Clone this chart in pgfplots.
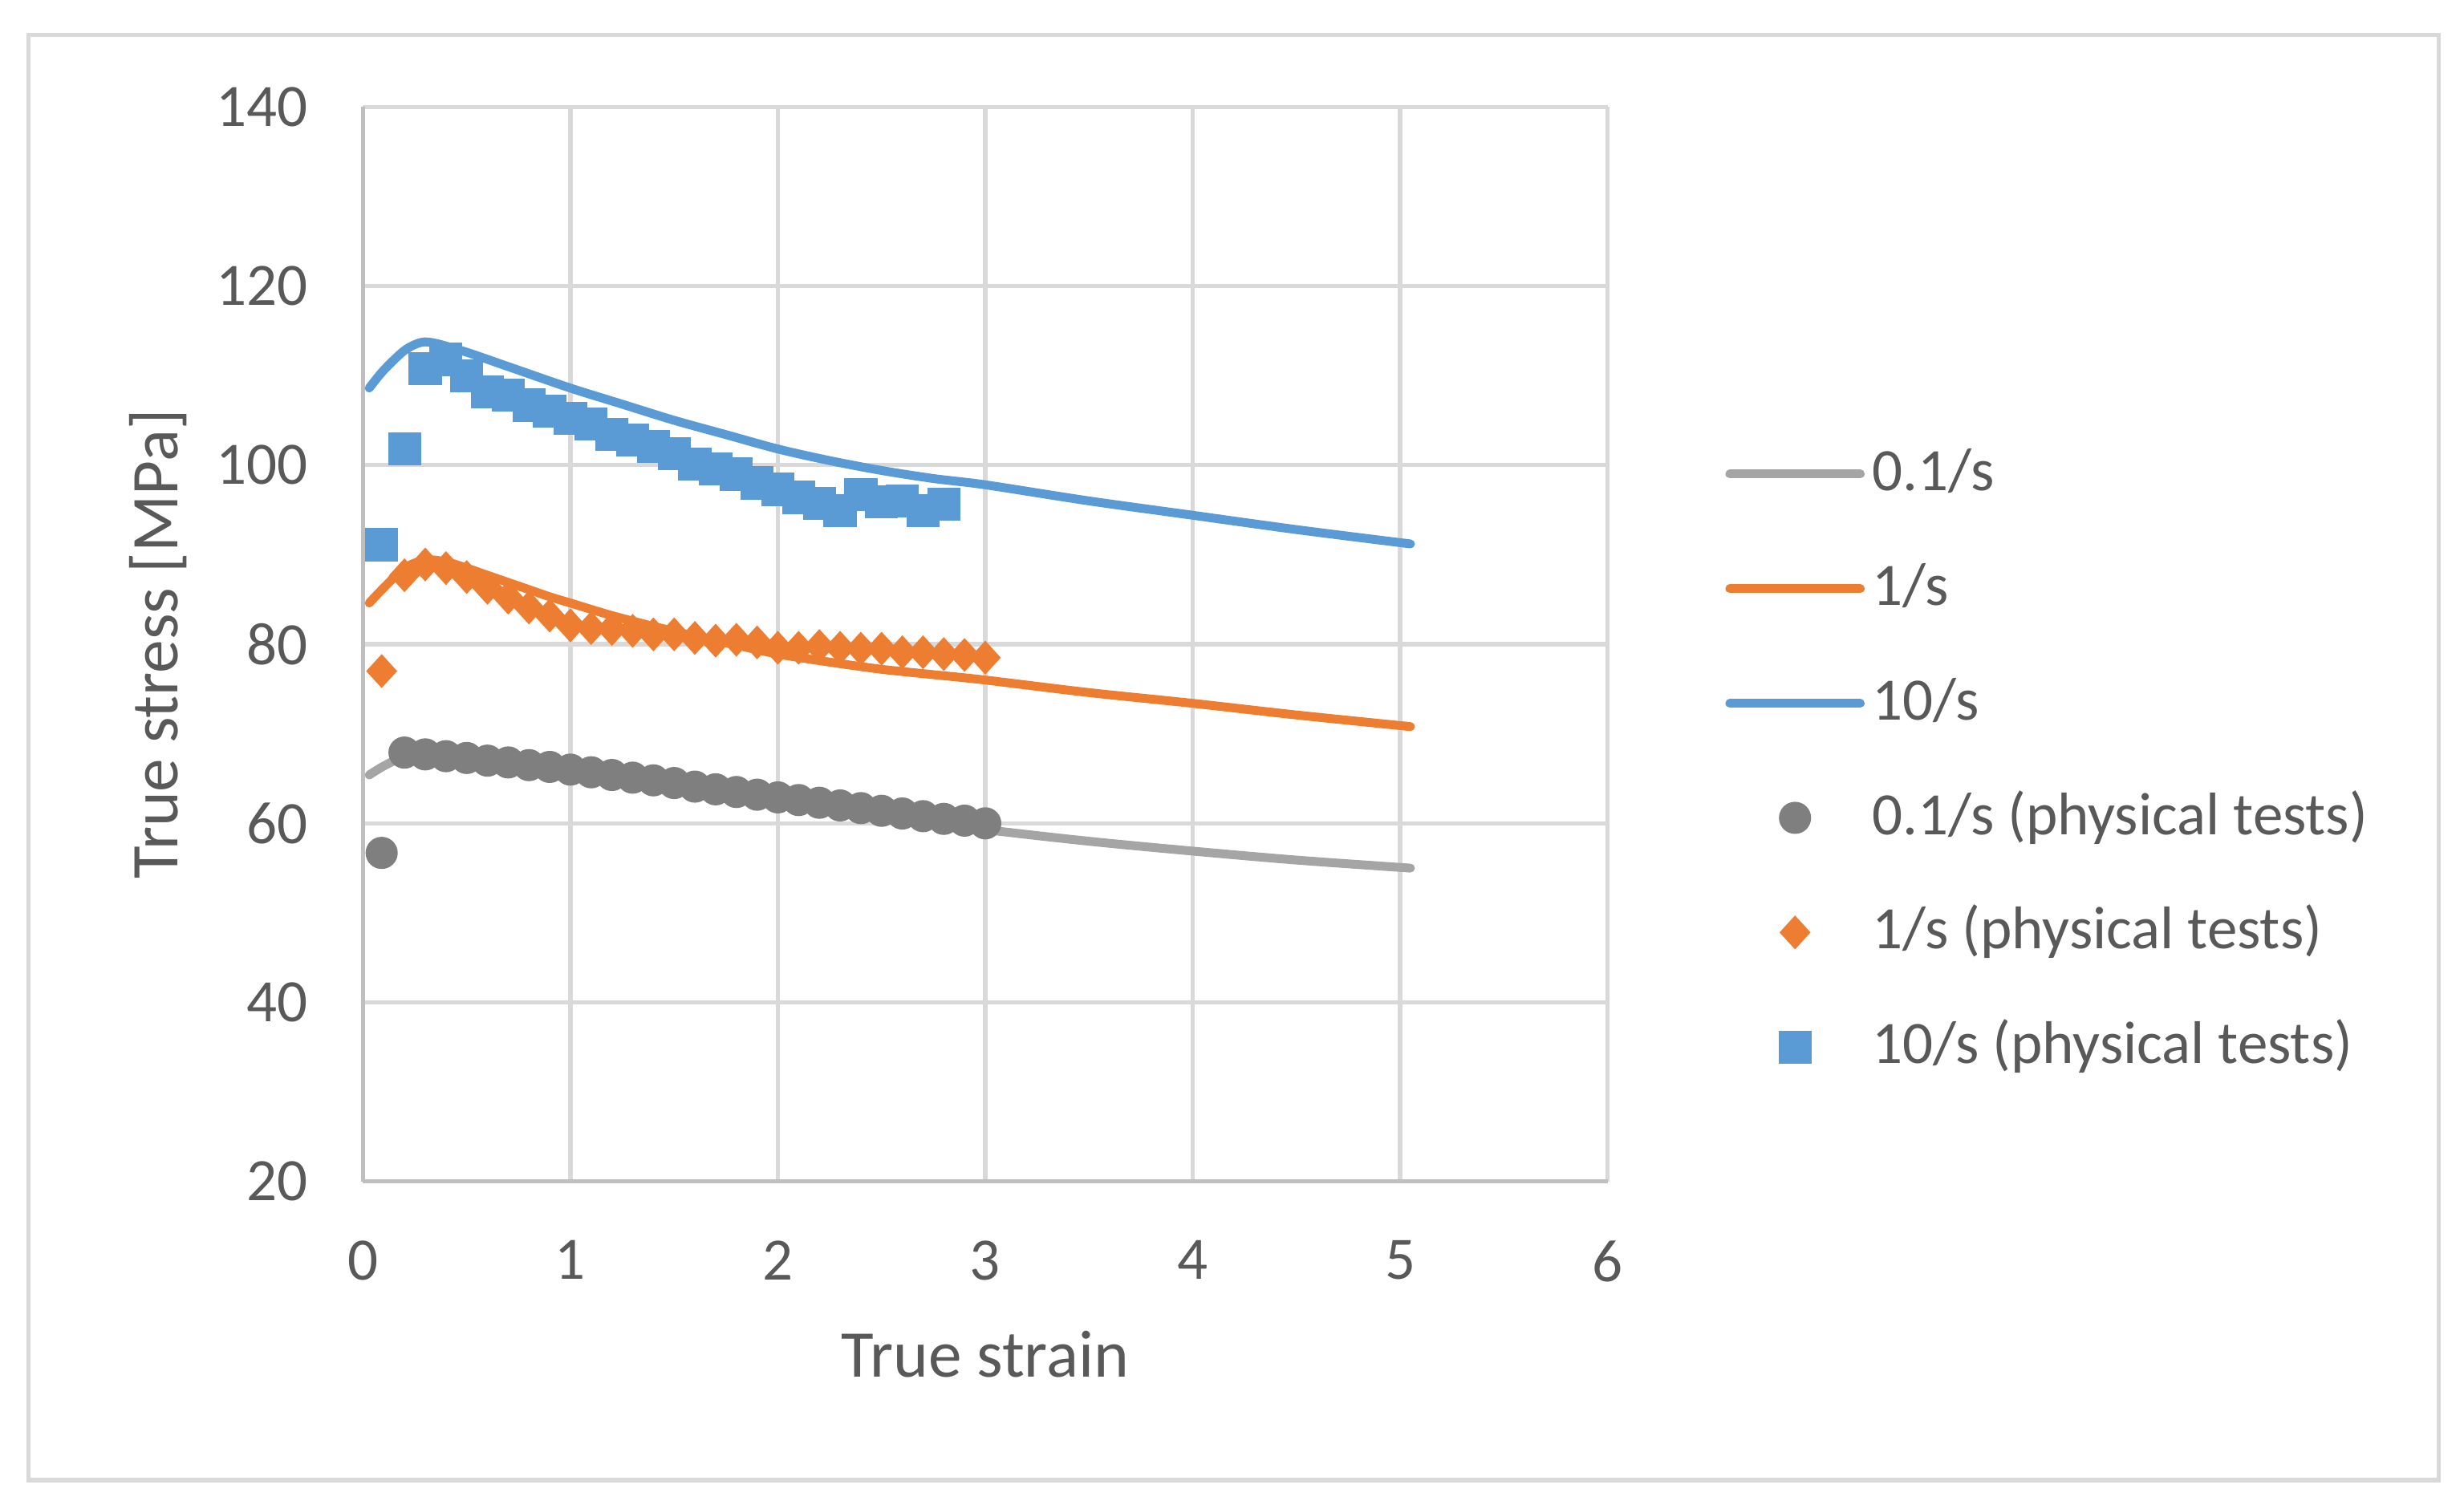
\documentclass[border=0pt]{standalone}
\usepackage{pgfplots}
\pgfplotsset{compat=1.18}
\usepackage{fontspec}
\setmainfont{Carlito}
\definecolor{txt}{HTML}{595959}
\definecolor{gridc}{HTML}{D9D9D9}
\definecolor{axc}{HTML}{BFBFBF}
\definecolor{sgray}{HTML}{A5A5A5}
\definecolor{mgray}{HTML}{7F7F7F}
\definecolor{sorange}{HTML}{ED7D31}
\definecolor{sblue}{HTML}{5B9BD5}
\begin{document}
\begin{tikzpicture}
\path[use as bounding box] (-2.31cm,-2.08cm) rectangle (13.37cm,7.52cm);
\draw[gridc, line width=0.75pt] (-2.13cm,-1.90cm) rectangle (13.21cm,7.30cm);
\begin{axis}[
 scale only axis, width=7.92cm, height=6.84cm,
 xmin=0,xmax=6,ymin=20,ymax=140,
 xtick={0,1,2,3,4,5,6}, ytick={20,40,60,80,100,120,140},
 grid=major, major grid style={gridc, line width=0.75pt},
 axis x line*=bottom, axis y line*=left,
 axis line style={axc, line width=0.75pt},
 major tick length=0pt, tick style={draw=none},
 /pgf/number format/assume math mode=true,
 ticklabel style={font=\fontsize{10.9}{13}\selectfont, text=txt},
 xticklabel style={anchor=north, inner sep=0pt, yshift=-0.37cm},
 yticklabel style={anchor=east, inner sep=0pt, xshift=-0.346cm},
 xlabel={True strain}, ylabel={True stress [MPa]},
 label style={font=\fontsize{12.1}{14}\selectfont, text=txt},
 xlabel style={at={(axis description cs:0.5,-0.182)}, anchor=base, inner sep=0pt},
 ylabel style={at={(axis description cs:-0.149,0.5)}, anchor=base, inner sep=0pt},
 legend style={draw=none, fill=none, at={(axis description cs:1.0947,0.684)}, anchor=north west,
   inner sep=0pt, outer sep=0pt, row sep=10.75pt, column sep=1.4pt,
   font=\fontsize{10.9}{13}\selectfont, text=txt,
   nodes={inner sep=0pt, text height=8pt, text depth=2pt}},
 legend cell align=left,
 legend image code/.code={\draw[mark repeat=2,mark phase=2] plot coordinates {(0.02cm,0cm)(0.435cm,0cm)(0.85cm,0cm)};},
]
\addplot[sgray, line width=1.6pt, line cap=round, smooth] coordinates {
(0.03,65.4)(0.1,66.4)(0.2,67.5)(0.3,68.0)(0.5,67.6)(0.75,66.8)(1.0,66.0)(1.5,64.3)(2.0,62.5)(2.5,60.8)(3.0,59.3)(3.5,58.0)(4.0,56.9)(4.5,55.9)(5.05,55.0)};
\addlegendentry{0.1/s}
\addplot[sorange, line width=1.6pt, line cap=round, smooth] coordinates {
(0.03,84.6)(0.1,86.3)(0.2,88.5)(0.3,89.4)(0.4,89.2)(0.5,88.5)(0.6,87.7)(0.7,86.9)(0.8,86.1)(0.9,85.3)(1.0,84.6)(1.2,83.2)(1.4,82.0)(1.6,80.9)(1.8,79.9)(2.0,78.9)(2.25,78.0)(2.5,77.2)(2.75,76.6)(3.0,76.0)(3.5,74.6)(4.0,73.4)(4.5,72.1)(5.05,70.8)};
\addlegendentry{1/s}
\addplot[sblue, line width=1.6pt, line cap=round, smooth] coordinates {
(0.03,108.6)(0.1,110.6)(0.2,112.8)(0.28,113.7)(0.35,113.6)(0.5,112.6)(0.7,111.0)(1.0,108.6)(1.25,106.8)(1.5,105.0)(1.75,103.4)(2.0,101.8)(2.25,100.5)(2.5,99.4)(2.75,98.5)(3.0,97.8)(3.5,96.0)(4.0,94.4)(4.5,92.8)(5.05,91.2)};
\addlegendentry{10/s}
\addplot[only marks, mark=*, mark size=0.97mm, mgray, mark options={line width=0.3pt, fill=mgray}] coordinates {
(0.09,56.7)(0.2,67.9)(0.3,67.7)(0.4,67.5)(0.5,67.3)(0.6,67.0)(0.7,66.8)(0.8,66.5)(0.9,66.3)(1.0,66.0)(1.1,65.7)(1.2,65.4)(1.3,65.1)(1.4,64.8)(1.5,64.5)(1.6,64.1)(1.7,63.8)(1.8,63.5)(1.9,63.2)(2.0,62.9)(2.1,62.6)(2.2,62.3)(2.3,62.0)(2.4,61.7)(2.5,61.4)(2.6,61.1)(2.7,60.8)(2.8,60.5)(2.9,60.3)(3.0,60.0)};
\addlegendentry{0.1/s (physical tests)}
\addplot[only marks, mark=diamond*, mark size=1.0mm, sorange, mark options={line width=0.3pt, fill=sorange, xscale=1.22}] coordinates {
(0.09,77.0)(0.2,87.7)(0.3,88.9)(0.4,88.5)(0.5,87.5)(0.6,86.3)(0.7,85.2)(0.8,84.1)(0.9,83.2)(1.0,82.1)(1.1,81.8)(1.2,81.7)(1.3,81.5)(1.4,81.1)(1.5,81.1)(1.6,80.7)(1.7,80.4)(1.8,80.5)(1.9,80.2)(2.0,79.6)(2.1,79.6)(2.2,79.8)(2.3,79.6)(2.4,79.5)(2.5,79.5)(2.6,79.1)(2.7,79.1)(2.8,78.9)(2.9,78.8)(3.0,78.5)};
\addlegendentry{1/s (physical tests)}
\addplot[only marks, mark=square*, mark size=1.0mm, sblue, mark options={line width=0.3pt, fill=sblue}] coordinates {
(0.09,91.1)(0.2,101.8)(0.3,110.8)(0.4,111.8)(0.5,110.0)(0.6,108.2)(0.7,107.8)(0.8,106.7)(0.9,106.0)(1.0,105.2)(1.1,104.6)(1.2,103.4)(1.3,102.8)(1.4,102.1)(1.5,101.3)(1.6,100.1)(1.7,99.6)(1.8,99.0)(1.9,98.0)(2.0,97.3)(2.1,96.4)(2.2,95.7)(2.3,94.9)(2.4,96.7)(2.5,95.9)(2.6,96.0)(2.7,94.9)(2.8,95.6)};
\addlegendentry{10/s (physical tests)}
\end{axis}
\end{tikzpicture}
\end{document}
